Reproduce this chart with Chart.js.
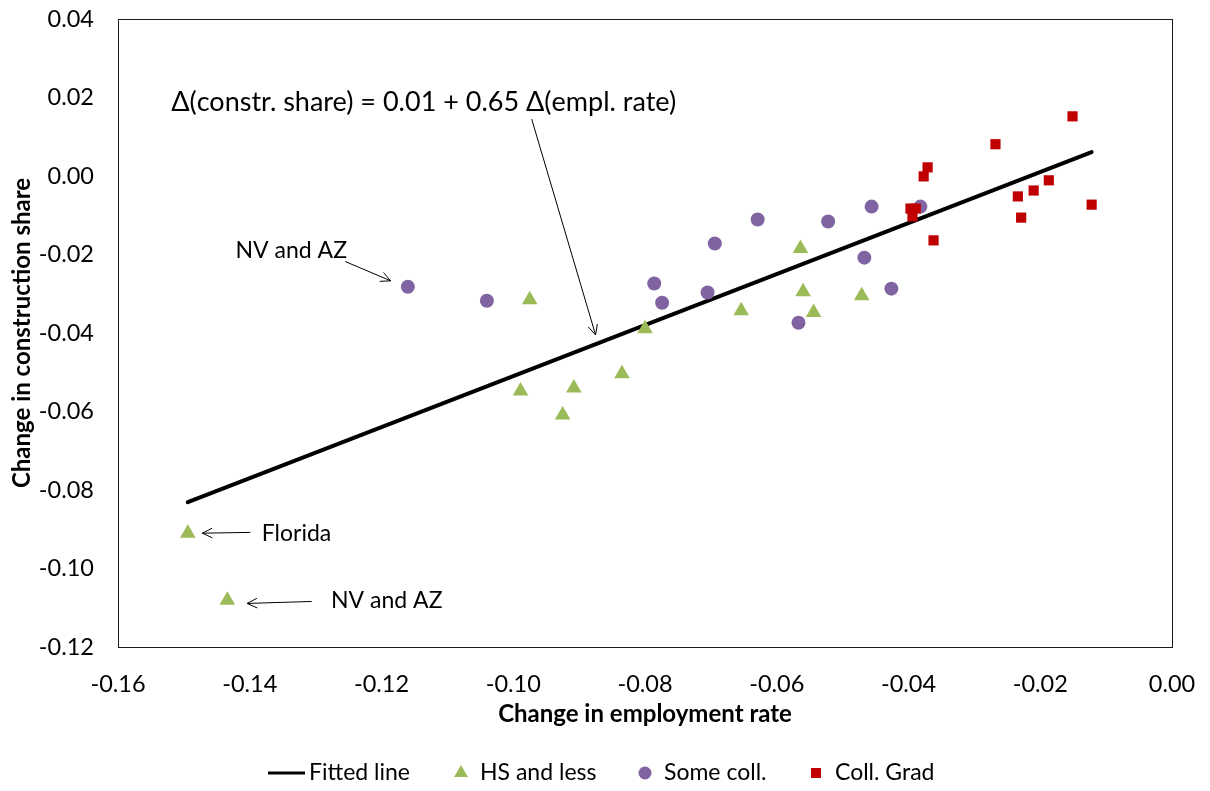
<!DOCTYPE html>
<html><head><meta charset="utf-8">
<script src="https://cdn.jsdelivr.net/npm/chart.js@4.4.1/dist/chart.umd.min.js"></script>
<style>html,body{margin:0;padding:0;background:#fff;}canvas{display:block}</style>
</head><body>
<canvas id="c" width="1210" height="791"></canvas>
<script>
// ---- data ----
const xTicks = [-0.16, -0.14, -0.12, -0.10, -0.08, -0.06, -0.04, -0.02, 0.00];
const yTicks = [-0.12, -0.10, -0.08, -0.06, -0.04, -0.02, 0.00, 0.02, 0.04];

const fitX = [-0.1494, -0.0122];
const fitY = [-0.0831, 0.0061];

const hsX = [-0.1494, -0.1434, -0.0975, -0.0989, -0.0925, -0.0908, -0.0835, -0.0800, -0.0654, -0.0564, -0.0560, -0.0544, -0.0471];
const hsY = [-0.0910, -0.1081, -0.0315, -0.0548, -0.0609, -0.0540, -0.0504, -0.0389, -0.0343, -0.0185, -0.0295, -0.0348, -0.0305];

const someX = [-0.1160, -0.1040, -0.0786, -0.0774, -0.0694, -0.0705, -0.0629, -0.0567, -0.0522, -0.0456, -0.0467, -0.0426, -0.0382];
const someY = [-0.0282, -0.0318, -0.0274, -0.0323, -0.0172, -0.0297, -0.0111, -0.0374, -0.0116, -0.0078, -0.0208, -0.0287, -0.0078];

const gradX = [-0.0151, -0.0268, -0.0371, -0.0377, -0.0397, -0.0389, -0.0394, -0.0362, -0.0234, -0.0210, -0.0187, -0.0229, -0.0122];
const gradY = [0.0152, 0.0081, 0.0022, -0.0001, -0.0083, -0.0083, -0.0103, -0.0164, -0.0052, -0.0037, -0.0011, -0.0106, -0.0073];

const seriesNames = ['Fitted line', 'HS and less', 'Some coll.', 'Coll. Grad'];
const xTitle = 'Change in employment rate';
const yTitle = 'Change in construction share';

// annotations (data coordinates)
const noteTexts = ['Δ(constr. share) = 0.01 + 0.65 Δ(empl. rate)', 'NV and AZ', 'Florida', 'NV and AZ'];
const noteX = [-0.1136, -0.1337, -0.1329, -0.1192];
const noteY = [0.0188, -0.0190, -0.0910, -0.1081];
const arrowFromX = [-0.0972, -0.1255, -0.1399, -0.1306];
const arrowFromY = [0.0145, -0.0218, -0.0908, -0.1084];
const arrowToX = [-0.0875, -0.1186, -0.1472, -0.1404];
const arrowToY = [-0.0405, -0.0267, -0.0910, -0.1089];

// ---- styles ----
const GREEN = '#9BBB59', PURPLE = '#8064A2', RED = '#C00000';
const FONT = 'Lato';
Chart.defaults.font.family = FONT;
Chart.defaults.color = '#000';

const pts = (xs, ys) => xs.map((x, i) => ({x, y: ys[i]}));

const frame = {
  id: 'frame',
  afterDatasetsDraw(chart) {
    const {ctx, chartArea: a} = chart;
    ctx.save();
    ctx.strokeStyle = '#1a1a1a';
    ctx.lineWidth = 1;
    ctx.strokeRect(Math.round(a.left) + 0.5, Math.round(a.top) + 0.5, Math.round(a.right - a.left), Math.round(a.bottom - a.top));
    ctx.restore();
  }
};

function arrow(ctx, x1, y1, x2, y2) {
  const ang = Math.atan2(y2 - y1, x2 - x1);
  const h = 11, sp = 0.45;
  ctx.beginPath();
  ctx.moveTo(x1, y1); ctx.lineTo(x2, y2);
  ctx.moveTo(x2 - h * Math.cos(ang - sp), y2 - h * Math.sin(ang - sp));
  ctx.lineTo(x2, y2);
  ctx.lineTo(x2 - h * Math.cos(ang + sp), y2 - h * Math.sin(ang + sp));
  ctx.stroke();
}

const notes = {
  id: 'notes',
  afterDatasetsDraw(chart) {
    const {ctx} = chart;
    const xs = chart.scales.x, ys = chart.scales.y;
    ctx.save();
    ctx.fillStyle = '#000';
    ctx.strokeStyle = '#000';
    ctx.lineWidth = 1;
    ctx.textAlign = 'center';
    ctx.textBaseline = 'middle';
    noteTexts.forEach((t, i) => {
      ctx.font = (i === 0 ? '27px ' : '23px ') + FONT;
      ctx.fillText(t, xs.getPixelForValue(noteX[i]), ys.getPixelForValue(noteY[i]));
      arrow(ctx, xs.getPixelForValue(arrowFromX[i]), ys.getPixelForValue(arrowFromY[i]),
               xs.getPixelForValue(arrowToX[i]), ys.getPixelForValue(arrowToY[i]));
    });
    ctx.restore();
  }
};

const legendPlugin = {
  id: 'customLegend',
  afterDraw(chart) {
    const {ctx} = chart;
    const y = 773;
    ctx.save();
    ctx.font = '23px ' + FONT;
    ctx.fillStyle = '#000';
    ctx.textBaseline = 'middle';
    ctx.textAlign = 'left';
    // fitted line
    ctx.strokeStyle = '#000'; ctx.lineWidth = 3;
    ctx.beginPath(); ctx.moveTo(268, y); ctx.lineTo(305, y); ctx.stroke();
    ctx.fillText(seriesNames[0], 309, y);
    // triangle
    ctx.fillStyle = GREEN;
    const r = 8;
    ctx.beginPath();
    ctx.moveTo(461, y - r);
    ctx.lineTo(461 + r * Math.sin(2 * Math.PI / 3), y - r * Math.cos(2 * Math.PI / 3));
    ctx.lineTo(461 - r * Math.sin(2 * Math.PI / 3), y - r * Math.cos(2 * Math.PI / 3));
    ctx.closePath(); ctx.fill();
    ctx.fillStyle = '#000';
    ctx.fillText(seriesNames[1], 480, y);
    // circle
    ctx.fillStyle = PURPLE;
    ctx.beginPath(); ctx.arc(645, y, 6.5, 0, Math.PI * 2); ctx.fill();
    ctx.fillStyle = '#000';
    ctx.fillText(seriesNames[2], 664, y);
    // square
    ctx.fillStyle = RED;
    ctx.fillRect(816 - 5, y - 5, 10, 10);
    ctx.fillStyle = '#000';
    ctx.fillText(seriesNames[3], 835, y);
    ctx.restore();
  }
};

const tickFont = {family: FONT, size: 23.5};
const titleFont = {family: FONT, size: 24, weight: 'bold'};

new Chart(document.getElementById('c'), {
  type: 'scatter',
  data: {
    datasets: [
      {label: seriesNames[0], type: 'line', data: pts(fitX, fitY), borderColor: '#000', borderWidth: 4,
       pointRadius: 0, showLine: true, fill: false, order: 4, borderCapStyle: 'round'},
      {label: seriesNames[1], data: pts(hsX, hsY), pointStyle: 'triangle', pointRadius: 9,
       backgroundColor: GREEN, borderColor: GREEN, borderWidth: 0, order: 3},
      {label: seriesNames[2], data: pts(someX, someY), pointStyle: 'circle', pointRadius: 7,
       backgroundColor: PURPLE, borderColor: PURPLE, borderWidth: 0, order: 2},
      {label: seriesNames[3], data: pts(gradX, gradY), pointStyle: 'rect', pointRadius: 7.2,
       backgroundColor: RED, borderColor: RED, borderWidth: 0, order: 1}
    ]
  },
  options: {
    responsive: false,
    devicePixelRatio: 1,
    animation: false,
    layout: {padding: {left: 0, right: 38, top: 19, bottom: 60}},
    plugins: {legend: {display: false}, tooltip: {enabled: false}},
    scales: {
      x: {
        type: 'linear', min: -0.16, max: 0,
        afterBuildTicks: s => { s.ticks = xTicks.map(v => ({value: v})); },
        afterFit: s => { s.height = 84; s.paddingLeft = 0; s.paddingRight = 0; },
        grid: {display: false, drawTicks: false},
        border: {display: false},
        ticks: {font: tickFont, color: '#000', padding: 23, maxRotation: 0,
                callback: v => (Math.abs(v) < 1e-9 ? 0 : v).toFixed(2)},
        title: {display: true, text: xTitle, font: titleFont, color: '#000', padding: {top: 0, bottom: 2}}
      },
      y: {
        type: 'linear', min: -0.12, max: 0.04,
        afterBuildTicks: s => { s.ticks = yTicks.map(v => ({value: v})); },
        afterFit: s => { s.width = 118; s.paddingTop = 0; s.paddingBottom = 0; },
        grid: {display: false, drawTicks: false},
        border: {display: false},
        ticks: {font: tickFont, color: '#000', padding: 24,
                callback: v => (Math.abs(v) < 1e-9 ? 0 : v).toFixed(2)},
        title: {display: true, text: yTitle, font: titleFont, color: '#000', padding: {top: 8, bottom: 0}}
      }
    }
  },
  plugins: [frame, notes, legendPlugin]
});
</script>
</body></html>
